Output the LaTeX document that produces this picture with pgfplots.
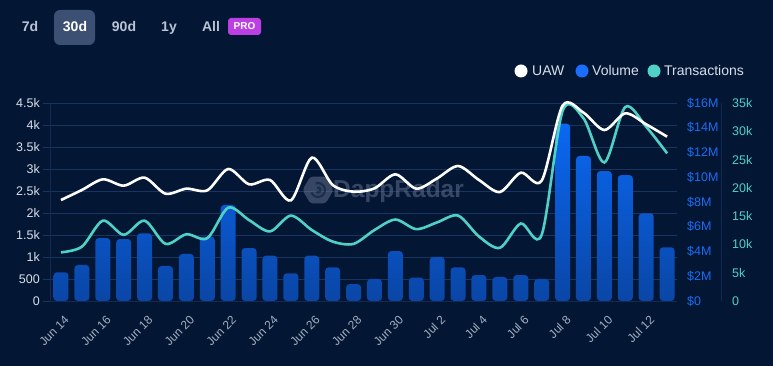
\documentclass[border=0pt]{standalone}
\usepackage{pgfplots}
\pgfplotsset{compat=1.18}
\usepackage{pgfplotstable}
\usepackage{fontspec}
\setmainfont{Liberation Sans}
\usetikzlibrary{shapes.geometric}
\definecolor{bg}{HTML}{031735}
\definecolor{gridc}{HTML}{1A3461}
\definecolor{axc}{HTML}{122A52}
\definecolor{volt}{HTML}{0A68F2}
\definecolor{volb}{HTML}{0A46A6}
\definecolor{volc}{HTML}{1A6DFF}
\definecolor{txc}{HTML}{4FD1C5}
\definecolor{ticklab}{HTML}{D8DEE8}
\definecolor{xlab}{HTML}{A3AEBF}
\definecolor{tabsel}{HTML}{3B5072}
\definecolor{tabtxt}{HTML}{B9C3D3}
\definecolor{pro}{HTML}{BC3FE3}
\definecolor{volaxis}{HTML}{1C6CF2}
\definecolor{wm}{HTML}{6B7891}

\pgfplotstableread{
i uaw vol tx
0 2295 2.32 8.6
1 2523 2.91 9.6
2 2765 5.09 14.2
3 2621 5.01 11.7
4 2803 5.47 14.2
5 2439 2.83 10.1
6 2553 3.80 11.8
7 2515 5.20 11.1
8 3000 7.76 16.5
9 2652 4.28 14.3
10 2750 3.66 12.3
11 2288 2.24 15.1
12 3258 3.66 12.55
13 2636 2.72 10.5
14 2485 1.37 10.1
15 2560 1.78 12.55
16 2879 4.04 14.4
17 2553 1.89 12.7
18 2788 3.56 13.9
19 3068 2.72 15.1
20 2750 2.10 11.4
21 2477 1.94 9.4
22 2916 2.10 13.7
23 2735 1.78 11.7
24 4440 14.33 33.6
25 4280 11.72 32.3
26 3886 10.50 24.5
27 4265 10.18 34.3
28 4015 7.09 30.8
29 3735 4.34 26.1
}\data

\pgfplotsset{
  base/.style={
    at={(50bp,65bp)}, anchor=south west, scale only axis,
    width=627bp, height=198bp,
    xmin=-0.526, xmax=29.474,
    /pgf/number format/assume math mode=true,
  },
}

\begin{document}
\begin{tikzpicture}
\fill[bg] (0,0) rectangle (773bp,366bp);
\useasboundingbox (0,0) rectangle (773bp,366bp);

% tabs
\fill[tabsel,rounded corners=6bp] (54bp,321bp) rectangle (95bp,356bp);
\begin{scope}[every node/.style={font=\fontsize{14bp}{16bp}\selectfont\bfseries, text=tabtxt, inner sep=0pt, anchor=base}]
\node at (30bp,334bp) {7d};
\node[text=white] at (75bp,334bp) {30d};
\node at (124bp,334bp) {90d};
\node at (169bp,334bp) {1y};
\node at (211bp,334bp) {All};
\end{scope}
\fill[pro,rounded corners=3bp] (228bp,331bp) rectangle (261bp,348bp);
\node[font=\fontsize{10bp}{12bp}\selectfont\bfseries, text=white, inner sep=0pt, anchor=base] at (244.5bp,336bp) {PRO};

% legend
\begin{scope}[every node/.style={font=\fontsize{14bp}{16bp}\selectfont, text=ticklab, inner sep=0pt, anchor=base west}]
\fill[white] (521bp,295bp) circle (6.5bp);
\node at (532bp,290bp) {UAW};
\fill[volc] (582bp,295bp) circle (6.5bp);
\node at (592bp,290bp) {Volume};
\fill[txc] (654bp,295bp) circle (6.5bp);
\node at (664bp,290bp) {Transactions};
\end{scope}

% axis A: UAW scale, grid, x labels
\begin{axis}[base,
  ymin=0, ymax=4500,
  ytick={0,500,...,4500},
  yticklabels={0,500,1k,1.5k,2k,2.5k,3k,3.5k,4k,4.5k},
  ymajorgrids, grid style={gridc, line width=0.8bp},
  axis y line*=left, axis x line*=bottom,
  axis line style={axc, line width=0.8bp},
  tick align=outside, major tick length=7bp,
  ytick style={gridc, line width=0.8bp},
  xtick style={draw=none},
  yticklabel style={font=\fontsize{12.5bp}{14bp}\selectfont, text=ticklab, inner sep=0pt, xshift=-3bp},
  xtick={0,2,...,28},
  xticklabels={Jun 14,Jun 16,Jun 18,Jun 20,Jun 22,Jun 24,Jun 26,Jun 28,Jun 30,Jul 2,Jul 4,Jul 6,Jul 8,Jul 10,Jul 12},
  xticklabel style={font=\fontsize{12bp}{14bp}\selectfont, text=xlab, inner sep=0pt, xshift=6bp, yshift=-10bp, rotate=45, anchor=east},
]
\addplot[draw=none] coordinates {(0,0)};
\end{axis}

% watermark
\begin{scope}[opacity=0.5]
\node[regular polygon, regular polygon sides=6, fill=wm, minimum size=31bp, inner sep=0pt, rounded corners=3bp] at (318bp,176bp) {};
\draw[bg, line width=2.2bp] (318bp,176bp) ++(200:7bp) arc (200:470:7bp);
\draw[bg, line width=2.2bp] (318bp,176bp) ++(230:2.5bp) arc (230:470:2.5bp);
\node[font=\fontsize{24.5bp}{28bp}\selectfont\bfseries, text=wm, anchor=base west, inner sep=0pt] at (333bp,168bp) {DappRadar};
\end{scope}

% axis B: volume bars
\begin{axis}[base,
  ymin=0, ymax=16,
  ytick={0,2,...,16},
  yticklabels={\$0,\$2M,\$4M,\$6M,\$8M,\$10M,\$12M,\$14M,\$16M},
  axis y line*=right, axis x line=none,
  axis line style={draw=none},
  ytick style={draw=none},
  yticklabel style={font=\fontsize{12.5bp}{14bp}\selectfont, text=volaxis, inner sep=0pt, anchor=west, xshift=10bp},
  xtick=\empty,
]
\addplot[ybar, bar width=15bp, draw=none, top color=volt, bottom color=volb, rounded corners=3.5bp] table[x=i, y=vol] {\data};
\end{axis}

% axis C: transactions
\begin{axis}[base,
  ymin=0, ymax=35,
  ytick={0,5,...,35},
  yticklabels={0,5k,10k,15k,20k,25k,30k,35k},
  axis y line*=right, axis x line=none,
  axis line style={draw=none},
  ytick style={draw=none},
  yticklabel style={font=\fontsize{12.5bp}{14bp}\selectfont, text=txc, inner sep=0pt, anchor=west, xshift=55bp},
  xtick=\empty, clip=false,
]
\addplot[txc, line width=2.6bp, smooth, tension=0.5] table[x=i, y=tx] {\data};
\end{axis}

% axis D: UAW line
\begin{axis}[base,
  ymin=0, ymax=4500,
  axis lines=none, ticks=none, clip=false,
]
\addplot[white, line width=2.6bp, smooth, tension=0.5] table[x=i, y=uaw] {\data};
\end{axis}
\draw[axc, line width=0.8bp] (721bp,65bp) -- (721bp,263bp);
\end{tikzpicture}
\end{document}
